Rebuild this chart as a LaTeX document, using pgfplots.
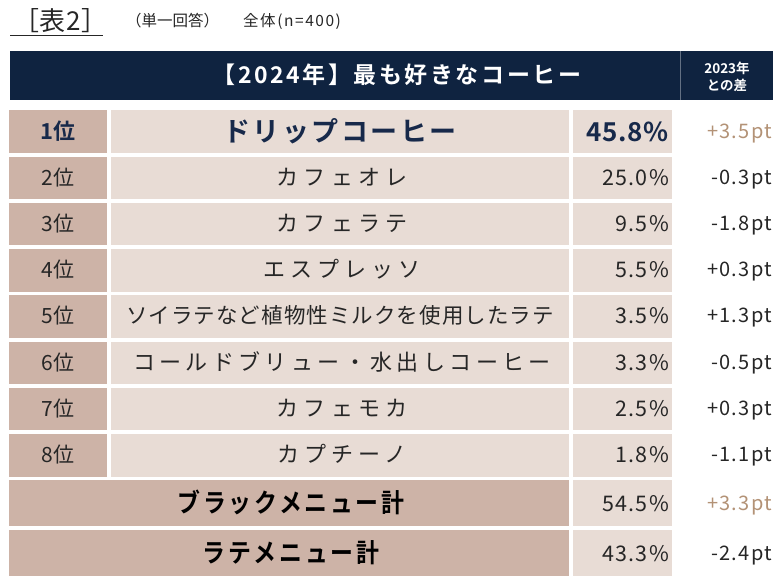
\documentclass[border=0pt]{standalone}
\usepackage{pgfplots}
\pgfplotsset{compat=1.18}
\usepackage{fontspec}
\setmainfont{Noto Sans CJK JP}[BoldFont={Noto Sans CJK JP Bold}]

\definecolor{navy}{HTML}{0F2340}
\definecolor{rankc}{HTML}{CDB3A7}
\definecolor{cellc}{HTML}{E8DCD5}
\definecolor{tan}{HTML}{B39276}
\definecolor{txt}{HTML}{262626}
\definecolor{navytxt}{HTML}{17294A}

\newcommand\fs[1]{\fontsize{#1}{#1}\selectfont}
\newcommand\ls[1]{\addfontfeature{LetterSpace=#1}}

% #1 top, #2 bottom of a ranked row
\newcommand\cells[2]{%
  \fill[rankc] (axis cs:9,#1) rectangle (axis cs:107,#2);
  \fill[cellc] (axis cs:111,#1) rectangle (axis cs:569,#2);
  \fill[cellc] (axis cs:573,#1) rectangle (axis cs:672,#2);
}
% #1 top, #2 bottom of a total row
\newcommand\totcells[2]{%
  \fill[rankc] (axis cs:9,#1) rectangle (axis cs:569,#2);
  \fill[cellc] (axis cs:573,#1) rectangle (axis cs:672,#2);
}

\begin{document}
\begin{tikzpicture}
\begin{axis}[
    scale only axis,
    width=781pt, height=584pt,
    xmin=0, xmax=781, ymin=0, ymax=584,
    y dir=reverse,
    hide axis,
    clip=false,
]
  \fill[white] (axis cs:0,0) rectangle (axis cs:781,584);

  % title
  \node[anchor=base west, inner sep=0, text=txt] at (axis cs:13,30.5) {\fs{26}\ls{3}［表2］};
  \draw[txt, line width=1.2pt] (axis cs:10,35.5) -- (axis cs:103,35.5);
  \node[anchor=base west, inner sep=0, text=txt] at (axis cs:126,26) {\fs{15.5}（単一回答）};
  \node[anchor=base west, inner sep=0, text=txt] at (axis cs:243,26) {\fs{15.5}\ls{10}全体(n=400)};

  % header
  \fill[navy] (axis cs:10,51) rectangle (axis cs:773,100);
  \draw[white!35!navy, line width=0.8pt] (axis cs:680,51) -- (axis cs:680,100);
  \node[anchor=base, inner sep=0, text=white] at (axis cs:397,83.5) {\fs{23}\bfseries\ls{11}【2024年】最も好きなコーヒー};
  \node[anchor=base, inner sep=0, text=white] at (axis cs:727,73) {\fs{13.5}\bfseries 2023年};
  \node[anchor=base, inner sep=0, text=white] at (axis cs:727,90) {\fs{13.5}\bfseries との差};

  % cells
  \cells{110}{153}
  \cells{157}{199}
  \cells{203}{245}
  \cells{249}{292}
  \cells{295}{338}
  \cells{342}{384}
  \cells{388}{430}
  \cells{434}{477}
  \totcells{480}{526}
  \totcells{530}{576}

  % row 1
  \node[anchor=base, inner sep=0, text=navytxt] at (axis cs:58,139.8) {\fs{22}\bfseries 1位};
  \node[anchor=base, inner sep=0, text=navytxt] at (axis cs:340,141.5) {\fs{27}\bfseries\ls{9}ドリップコーヒー};
  \node[anchor=base east, inner sep=0, text=navytxt] at (axis cs:669,141) {\fs{26}\bfseries\ls{3}45.8\%};
  \node[anchor=base east, inner sep=0, text=tan] at (axis cs:772,138.8) {\fs{20}\ls{6}+3.5pt};

  % rows 2-8
  \node[anchor=base, inner sep=0, text=txt] at (axis cs:58,185.3) {\fs{21}2位};
  \node[anchor=base, inner sep=0, text=txt] at (axis cs:342,185.6) {\fs{22}\ls{23}カフェオレ};
  \node[anchor=base east, inner sep=0, text=txt] at (axis cs:669,185.5) {\fs{21.5}\ls{6}25.0\%};
  \node[anchor=base east, inner sep=0, text=txt] at (axis cs:772,184.8) {\fs{20}\ls{6}-0.3pt};

  \node[anchor=base, inner sep=0, text=txt] at (axis cs:58,231.3) {\fs{21}3位};
  \node[anchor=base, inner sep=0, text=txt] at (axis cs:342,231.6) {\fs{22}\ls{23}カフェラテ};
  \node[anchor=base east, inner sep=0, text=txt] at (axis cs:669,231.5) {\fs{21.5}\ls{6}9.5\%};
  \node[anchor=base east, inner sep=0, text=txt] at (axis cs:772,230.8) {\fs{20}\ls{6}-1.8pt};

  \node[anchor=base, inner sep=0, text=txt] at (axis cs:58,277.3) {\fs{21}4位};
  \node[anchor=base, inner sep=0, text=txt] at (axis cs:342,277.6) {\fs{22}\ls{23}エスプレッソ};
  \node[anchor=base east, inner sep=0, text=txt] at (axis cs:669,277.5) {\fs{21.5}\ls{6}5.5\%};
  \node[anchor=base east, inner sep=0, text=txt] at (axis cs:772,276.8) {\fs{20}\ls{6}+0.3pt};

  \node[anchor=base, inner sep=0, text=txt] at (axis cs:58,323.3) {\fs{21}5位};
  \node[anchor=base, inner sep=0, text=txt] at (axis cs:340,323.4) {\fs{21.5}\ls{5}ソイラテなど植物性ミルクを使用したラテ};
  \node[anchor=base east, inner sep=0, text=txt] at (axis cs:669,323.5) {\fs{21.5}\ls{6}3.5\%};
  \node[anchor=base east, inner sep=0, text=txt] at (axis cs:772,322.8) {\fs{20}\ls{6}+1.3pt};

  \node[anchor=base, inner sep=0, text=txt] at (axis cs:58,370.3) {\fs{21}6位};
  \node[anchor=base, inner sep=0, text=txt] at (axis cs:342,370.6) {\fs{22}\ls{20}コールドブリュー・水出しコーヒー};
  \node[anchor=base east, inner sep=0, text=txt] at (axis cs:669,370.5) {\fs{21.5}\ls{6}3.3\%};
  \node[anchor=base east, inner sep=0, text=txt] at (axis cs:772,369.8) {\fs{20}\ls{6}-0.5pt};

  \node[anchor=base, inner sep=0, text=txt] at (axis cs:58,416.3) {\fs{21}7位};
  \node[anchor=base, inner sep=0, text=txt] at (axis cs:342,416.6) {\fs{22}\ls{23}カフェモカ};
  \node[anchor=base east, inner sep=0, text=txt] at (axis cs:669,416.5) {\fs{21.5}\ls{6}2.5\%};
  \node[anchor=base east, inner sep=0, text=txt] at (axis cs:772,415.8) {\fs{20}\ls{6}+0.3pt};

  \node[anchor=base, inner sep=0, text=txt] at (axis cs:58,462.3) {\fs{21}8位};
  \node[anchor=base, inner sep=0, text=txt] at (axis cs:342,462.6) {\fs{22}\ls{23}カプチーノ};
  \node[anchor=base east, inner sep=0, text=txt] at (axis cs:669,462.5) {\fs{21.5}\ls{6}1.8\%};
  \node[anchor=base east, inner sep=0, text=txt] at (axis cs:772,461.8) {\fs{20}\ls{6}-1.1pt};

  % totals
  \node[anchor=base, inner sep=0, text=black, xscale=0.88] at (axis cs:291,512) {\fs{26}\bfseries\ls{12}ブラックメニュー計};
  \node[anchor=base east, inner sep=0, text=txt] at (axis cs:669,511) {\fs{21.5}\ls{6}54.5\%};
  \node[anchor=base east, inner sep=0, text=tan] at (axis cs:772,510.3) {\fs{20}\ls{6}+3.3pt};

  \node[anchor=base, inner sep=0, text=black, xscale=0.88] at (axis cs:291,562) {\fs{26}\bfseries\ls{12}ラテメニュー計};
  \node[anchor=base east, inner sep=0, text=txt] at (axis cs:669,561) {\fs{21.5}\ls{6}43.3\%};
  \node[anchor=base east, inner sep=0, text=txt] at (axis cs:772,560.3) {\fs{20}\ls{6}-2.4pt};
\end{axis}
\end{tikzpicture}
\end{document}
